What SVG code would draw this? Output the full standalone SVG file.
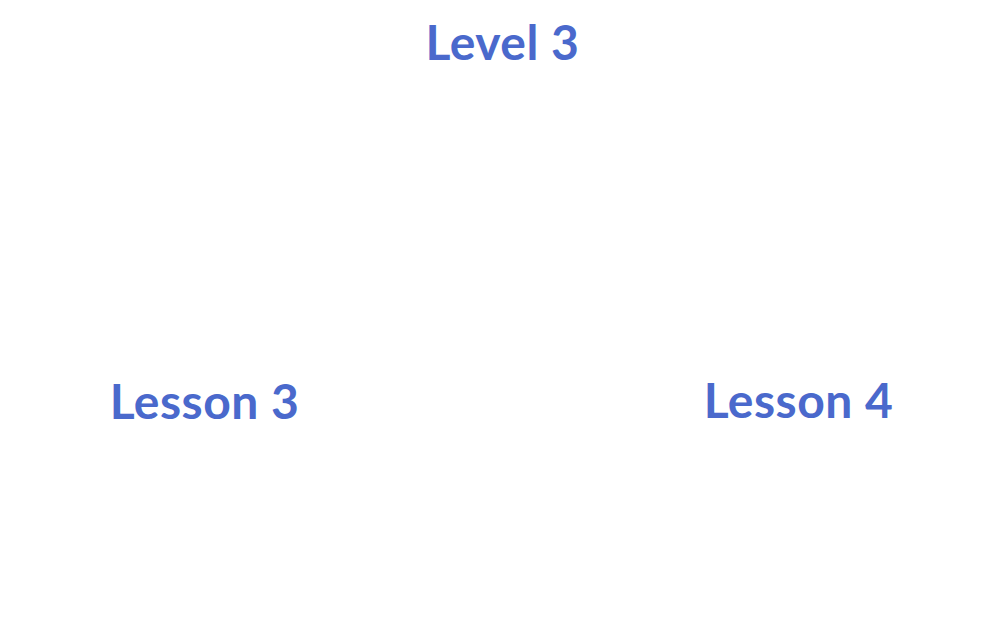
<svg xmlns="http://www.w3.org/2000/svg" width="1000" height="640" viewBox="0 0 1000 640">
<style>
.lbl{font-family:Lato,"Open Sans","Liberation Sans",sans-serif;font-weight:bold;font-size:48px;letter-spacing:0.5px;fill:#4a69cc;text-anchor:middle}
</style>
<rect width="1000" height="640" fill="#ffffff"/>
<g id="connectors"></g>
<g id="level3"><text class="lbl" x="502.5" y="60">Level 3</text></g>
<g id="lesson3"><text class="lbl" x="204.5" y="419">Lesson 3</text></g>
<g id="lesson4"><text class="lbl" x="798.5" y="418">Lesson 4</text></g>
</svg>
